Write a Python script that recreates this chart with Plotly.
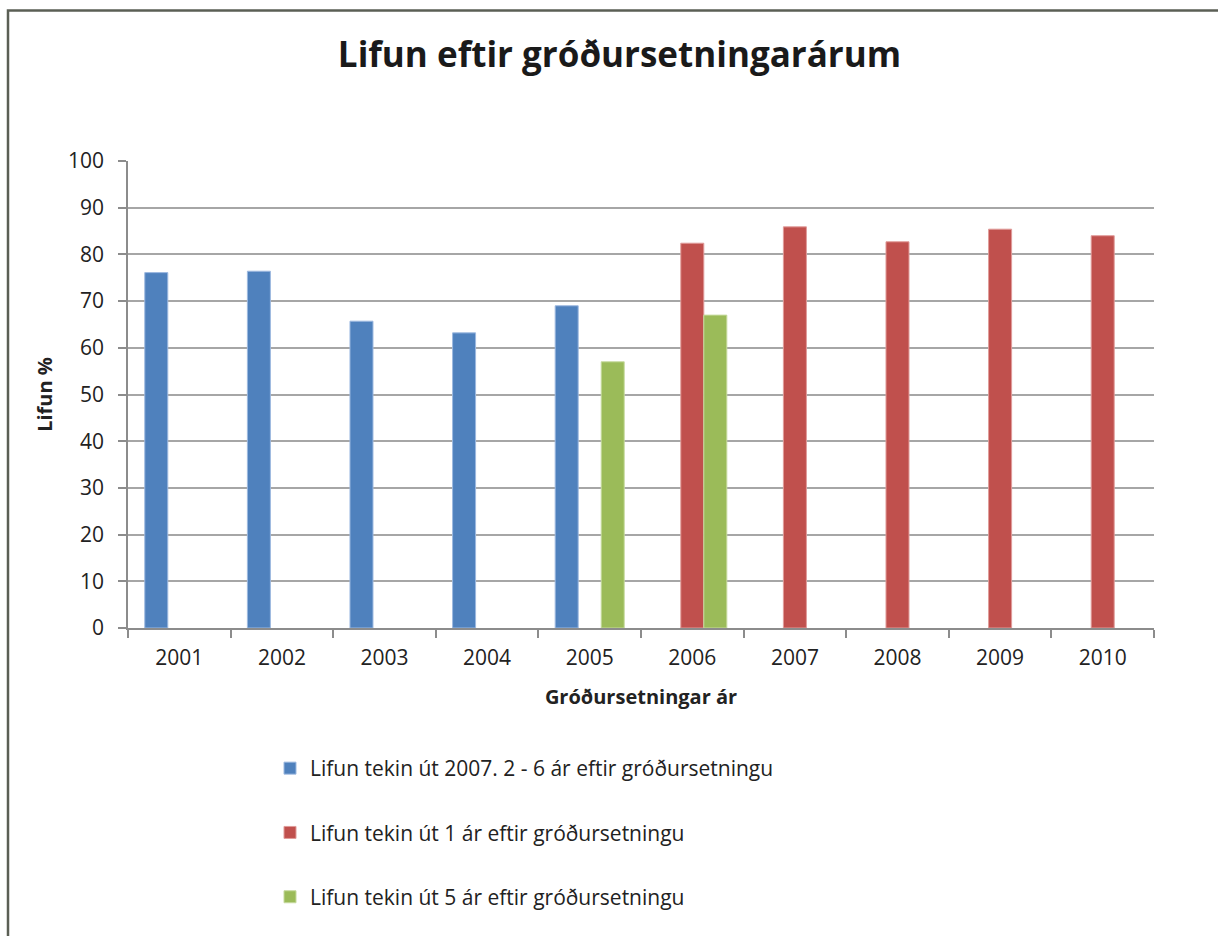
import plotly.graph_objects as go

years = ["2001", "2002", "2003", "2004", "2005", "2006", "2007", "2008", "2009", "2010"]
blue_vals = [76.1, 76.4, 65.7, 63.2, 69.0, None, None, None, None, None]
red_vals = [None, None, None, None, None, 82.4, 85.9, 82.7, 85.4, 84.0]
green_vals = [None, None, None, None, 57.0, 67.0, None, None, None, None]

names = [
    "Lifun tekin út 2007. 2 - 6 ár eftir gróðursetningu",
    "Lifun tekin út 1 ár eftir gróðursetningu",
    "Lifun tekin út 5 ár eftir gróðursetningu",
]
colors = ["#4F81BD", "#C0504D", "#9BBB59"]
edges = ["#9DB9E0", "#E09C9A", "#C6DA9E"]

FONT = "Open Sans"
W, H = 1218, 936
L, R, T, B = 128, 1154, 161, 628

fig = go.Figure()
for i, (vals, nm) in enumerate(zip([blue_vals, red_vals, green_vals], names)):
    fig.add_trace(go.Bar(
        x=years, y=vals, name=nm,
        marker=dict(color=colors[i], line=dict(color=edges[i], width=1)),
        legendgroup=str(i),
    ))

def px(x):
    return (x - L) / (R - L)

def py(y):
    return (B - y) / (B - T)

fig.update_layout(
    width=W, height=H,
    margin=dict(l=L, r=W - R, t=T, b=H - B),
    paper_bgcolor="white", plot_bgcolor="white",
    barmode="group", bargap=0.327, bargroupgap=0,
    font=dict(family=FONT, color="#222222", size=21),
    title=dict(text="<b>Lifun eftir gróðursetningarárum</b>",
               x=619.5 / W, xanchor="center", y=1 - 55 / H, yanchor="middle",
               font=dict(family=FONT, size=35, color="#1a1a1a")),
    xaxis=dict(
        type="category", showline=True, linecolor="#8c8c8c", linewidth=1.5,
        ticks="outside", ticklen=8, tickcolor="#8c8c8c", tickwidth=1.5,
        tickson="boundaries", showgrid=False, ticklabelstandoff=10,
        tickfont=dict(size=21, family=FONT),
        title=dict(text="<b>Gróðursetningar ár</b>", font=dict(size=20, family=FONT), standoff=20),
    ),
    yaxis=dict(
        range=[0, 100], dtick=10, showline=True, linecolor="#8c8c8c", linewidth=1.5,
        ticks="outside", ticklen=8, tickcolor="#8c8c8c", tickwidth=1.5,
        showgrid=True, gridcolor="#a6a6a6", gridwidth=1.5, zeroline=False,
        ticklabelstandoff=10,
        tickfont=dict(size=21, family=FONT),
        title=dict(text="<b>Lifun %</b>", font=dict(size=20, family=FONT), standoff=10),
    ),
    legend=dict(
        orientation="v", x=px(270), xanchor="left", y=py(748), yanchor="top",
        traceorder="grouped", tracegroupgap=34,
        font=dict(size=21, family=FONT, color="#222222"),
        itemwidth=30, bgcolor="rgba(0,0,0,0)",
    ),
    showlegend=True,
)

# outer chart frame (left and top edges visible)
fig.add_shape(type="path", xref="paper", yref="paper",
              path=f"M {px(8)} {py(H+5)} L {px(8)} {py(10.5)} L {px(W+5)} {py(10.5)}",
              line=dict(color="#5b5f55", width=2.5))

fig.write_html("out.html", config={"displayModeBar": False},
               post_script="document.body.style.margin='0';")
